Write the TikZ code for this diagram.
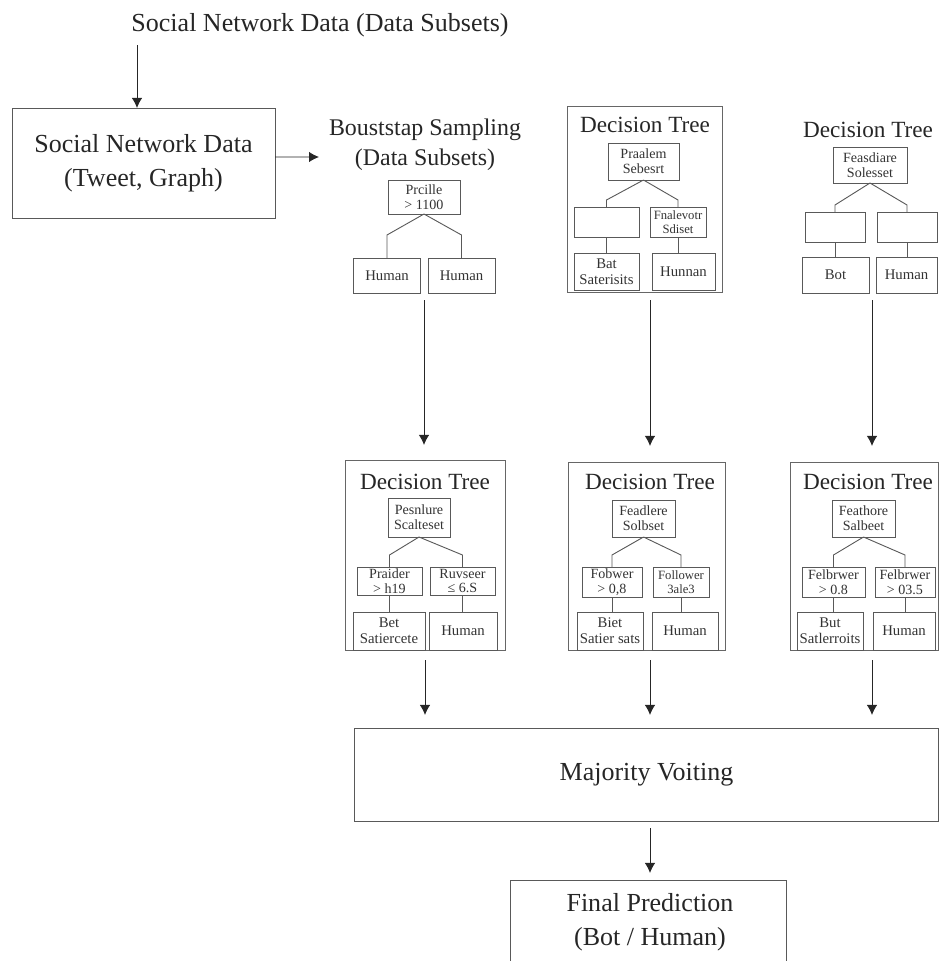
\documentclass[tikz,border=0pt]{standalone}
\usepackage{fontspec}
\setmainfont{Liberation Serif}
\usetikzlibrary{shapes,arrows.meta,calc,positioning}

\begin{document}
\begin{tikzpicture}[x=0.025cm, y=-0.025cm,
    block/.style={draw=black!65, line width=0.65pt, rectangle, inner sep=0pt, outer sep=0pt, align=center},
    treebox/.style={draw=black!60, line width=0.65pt, rectangle, inner sep=0pt, outer sep=0pt},
    bigtxt/.style={font=\fontsize{18.5}{24}\selectfont, align=center, text=black!85},
    ttl/.style={font=\fontsize{16.5}{20}\selectfont, text=black!85},
    leaf/.style={block, font=\fontsize{10.5}{11.5}\selectfont, text=black!80},
    cond/.style={block, font=\fontsize{10}{10.5}\selectfont, text=black!80},
    branch/.style={draw=black!65, line width=0.65pt},
    arr/.style={-{Latex[length=2.5mm,width=2.6mm]}, line width=0.6pt, black!85}]

        \useasboundingbox (0,0) rectangle (940,961);

        \node [bigtxt] (src) at (320,25) {Social Network Data (Data Subsets)};
        \node [block, bigtxt, minimum width=6.575cm, minimum height=2.75cm] (data) at (143.5,163) {Social Network Data\\(Tweet, Graph)};
        \node [font=\fontsize{17}{21.5}\selectfont, align=center, text=black!85] (boot) at (425,145) {Bouststap Sampling\\(Data Subsets)};
        \coordinate (in0) at (137,45);
        \coordinate (bootin) at (319,157);
        \draw [arr] (in0) -- (in0 |- data.north);
        \draw [arr] ([yshift=0.15cm]data.east) -- (bootin);

        \node [cond, minimum width=1.8cm, minimum height=0.85cm] (r1) at (424,197) {Prcille\\> 1100};
        \node [leaf, minimum width=1.675cm, minimum height=0.875cm] (l1a) at (387,275.5) {Human};
        \node [leaf, minimum width=1.675cm, minimum height=0.875cm] (l1b) at (461.5,275.5) {Human};
        \foreach \c in {l1a,l1b}
          \draw [branch] (r1.south) -- ([yshift=0.575cm]\c.north) -- (\c.north);

        \node [treebox, minimum width=3.875cm, minimum height=4.65cm] (f2) at (644.5,199) {};
        \node [ttl] (t2) at (645,125) {Decision Tree};
        \node [cond, minimum width=1.775cm, minimum height=0.925cm] (r2) at (643.5,161.5) {Praalem\\Sebesrt};
        \node [cond, minimum width=1.625cm, minimum height=0.75cm] (m2a) at (606.5,222) {};
        \node [cond, font=\fontsize{9}{10}\selectfont, minimum width=1.4cm, minimum height=0.75cm] (m2b) at (678,222) {Fnalevotr\\Sdiset};
        \node [leaf, minimum width=1.625cm, minimum height=0.925cm] (l2a) at (606.5,271.5) {Bat\\Saterisits};
        \node [leaf, minimum width=1.575cm, minimum height=0.925cm] (l2b) at (683.5,271.5) {Hunnan};
        \foreach \c in {m2a,m2b}
          \draw [branch] (r2.south) -- ([yshift=0.175cm]\c.north) -- (\c.north);
        \foreach \m/\l in {m2a/l2a,m2b/l2b}
          \draw [branch] (\m.south) -- (\m.south |- \l.north);

        \node [ttl] (t3) at (868,130) {Decision Tree};
        \node [cond, minimum width=1.85cm, minimum height=0.9cm] (r3) at (870,165) {Feasdiare\\Solesset};
        \node [cond, minimum width=1.5cm, minimum height=0.75cm] (m3a) at (835,227) {};
        \node [cond, minimum width=1.5cm, minimum height=0.75cm] (m3b) at (907,227) {};
        \node [leaf, minimum width=1.675cm, minimum height=0.9cm] (l3a) at (835.5,275) {Bot};
        \node [leaf, minimum width=1.525cm, minimum height=0.9cm] (l3b) at (906.5,275) {Human};
        \foreach \c in {m3a,m3b}
          \draw [branch] (r3.south) -- ([yshift=0.175cm]\c.north) -- (\c.north);
        \foreach \m/\l in {m3a/l3a,m3b/l3b}
          \draw [branch] (\m.south) -- (\m.south |- \l.north);

        \node [treebox, minimum width=4cm, minimum height=4.75cm] (f4) at (425,555) {};
        \node [ttl] (t4) at (425,482) {Decision Tree};
        \node [cond, minimum width=1.55cm, minimum height=0.975cm] (r4) at (419,517.5) {Pesnlure\\Scalteset};
        \node [cond, minimum width=1.625cm, minimum height=0.7cm] (m4a) at (389.5,581) {Praider\\> h19};
        \node [cond, minimum width=1.625cm, minimum height=0.7cm] (m4b) at (462.5,581) {Ruvseer\\≤ 6.S};
        \node [leaf, minimum width=1.8cm, minimum height=0.95cm] (l4a) at (389,631) {Bet\\Satiercete};
        \node [leaf, minimum width=1.7cm, minimum height=0.95cm] (l4b) at (463,631) {Human};
        \foreach \c in {m4a,m4b}
          \draw [branch] (r4.south) -- ([yshift=0.3cm]\c.north) -- (\c.north);
        \foreach \m/\l in {m4a/l4a,m4b/l4b}
          \draw [branch] (\m.south) -- (\m.south |- \l.north);

        \node [treebox, minimum width=3.925cm, minimum height=4.7cm] (f5) at (646.5,556) {};
        \node [ttl] (t5) at (650,482) {Decision Tree};
        \node [cond, minimum width=1.575cm, minimum height=0.925cm] (r5) at (643.5,518.5) {Feadlere\\Solbset};
        \node [cond, minimum width=1.5cm, minimum height=0.75cm] (m5a) at (612,582) {Fobwer\\> 0,8};
        \node [cond, font=\fontsize{9}{10}\selectfont, minimum width=1.4cm, minimum height=0.75cm] (m5b) at (681,582) {Follower\\3ale3};
        \node [leaf, minimum width=1.65cm, minimum height=0.95cm] (l5a) at (610,631) {Biet\\Satier sats};
        \node [leaf, minimum width=1.65cm, minimum height=0.95cm] (l5b) at (685,631) {Human};
        \foreach \c in {m5a,m5b}
          \draw [branch] (r5.south) -- ([yshift=0.3cm]\c.north) -- (\c.north);
        \foreach \m/\l in {m5a/l5a,m5b/l5b}
          \draw [branch] (\m.south) -- (\m.south |- \l.north);

        \node [treebox, minimum width=3.7cm, minimum height=4.7cm] (f6) at (864,556) {};
        \node [ttl] (t6) at (868,482) {Decision Tree};
        \node [cond, minimum width=1.575cm, minimum height=0.925cm] (r6) at (863.5,518.5) {Feathore\\Salbeet};
        \node [cond, minimum width=1.575cm, minimum height=0.75cm] (m6a) at (833.5,582) {Felbrwer\\> 0.8};
        \node [cond, minimum width=1.5cm, minimum height=0.75cm] (m6b) at (905,582) {Felbrwer\\> 03.5};
        \node [leaf, minimum width=1.65cm, minimum height=0.95cm] (l6a) at (830,631) {But\\Satlerroits};
        \node [leaf, minimum width=1.55cm, minimum height=0.95cm] (l6b) at (904,631) {Human};
        \foreach \c in {m6a,m6b}
          \draw [branch] (r6.south) -- ([yshift=0.3cm]\c.north) -- (\c.north);
        \foreach \m/\l in {m6a/l6a,m6b/l6b}
          \draw [branch] (\m.south) -- (\m.south |- \l.north);

        \coordinate (o1) at (424,300);
        \coordinate (o3) at (872,300);
        \draw [arr, shorten >=0.375cm] (o1) -- (o1 |- f4.north);
        \draw [arr, shorten <=0.2cm, shorten >=0.4cm] (t5 |- f2.south) -- (t5 |- f5.north);
        \draw [arr, shorten >=0.4cm] (o3) -- (o3 |- f6.north);

        \node [block, bigtxt, minimum width=14.575cm, minimum height=2.325cm] (maj) at (646.5,774.5) {Majority Voiting};
        \foreach \f/\t in {f4/t4,f5/t5,f6/o3}
          \draw [arr, shorten <=0.25cm, shorten >=0.325cm] (\t |- \f.south) -- (\t |- maj.north);

        \node [block, minimum width=6.9cm, minimum height=2.875cm] (final) at (648,937.5) {};
        \node [bigtxt] (finaltxt) at (650,922) {Final Prediction\\(Bot / Human)};
        \draw [arr, shorten <=0.175cm, shorten >=0.175cm] (t5 |- maj.south) -- (t5 |- final.north);
\end{tikzpicture}
\end{document}
